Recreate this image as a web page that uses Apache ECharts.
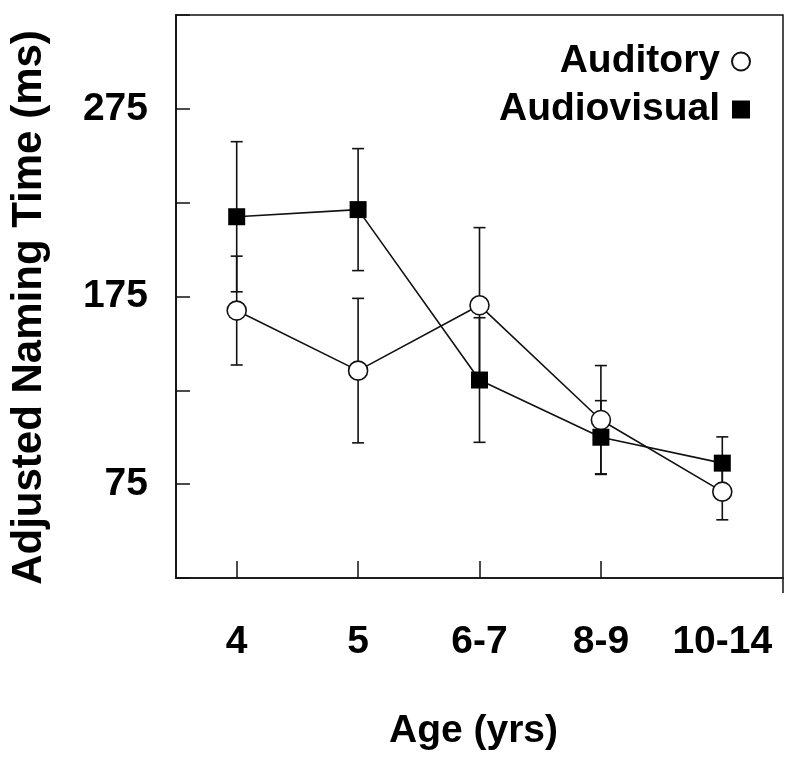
<!DOCTYPE html>
<html>
<head>
<meta charset="utf-8">
<script src="https://cdn.jsdelivr.net/npm/echarts@6/dist/echarts.min.js"></script>
<style>
html,body{margin:0;padding:0;background:#fff;}
#chart{width:800px;height:764px;}
</style>
</head>
<body>
<div id="chart"></div>
<script>
const categories = ['4', '5', '6-7', '8-9', '10-14'];
const auditory = [167.5, 135.5, 170.3, 109.2, 71];
const auditoryErr = [29, 38.5, 41.4, 29, 15];
const audiovisual = [217.5, 221.3, 130.5, 100, 86.2];
const audiovisualErr = [40, 32.5, 33.2, 19.5, 14];
const yTickLabels = [75, 175, 275];

const FONT = '"Liberation Sans", Arial, Helvetica, sans-serif';
const INK = '#111';

function errData(vals, errs) {
  return vals.map((v, i) => [i, v - errs[i], v + errs[i]]);
}

function renderErr(params, api) {
  const x = api.value(0), lo = api.value(1), hi = api.value(2);
  const pHi = api.coord([x, hi]);
  const pLo = api.coord([x, lo]);
  const hw = 6;
  const style = { stroke: INK, lineWidth: 1.6, fill: null };
  return {
    type: 'group',
    children: [
      { type: 'line', shape: { x1: pHi[0], y1: pHi[1], x2: pLo[0], y2: pLo[1] }, style: style },
      { type: 'line', shape: { x1: pHi[0] - hw, y1: pHi[1], x2: pHi[0] + hw, y2: pHi[1] }, style: style },
      { type: 'line', shape: { x1: pLo[0] - hw, y1: pLo[1], x2: pLo[0] + hw, y2: pLo[1] }, style: style }
    ]
  };
}

const chart = echarts.init(document.getElementById('chart'), null, { renderer: 'canvas' });
chart.setOption({
  animation: false,
  backgroundColor: '#fff',
  grid: {
    left: 176, right: 17, top: 15, bottom: 186,
    show: true, borderColor: INK, borderWidth: 1.5, backgroundColor: 'transparent'
  },
  legend: {
    orient: 'vertical',
    right: 44,
    top: 37,
    align: 'right',
    itemWidth: 18,
    itemHeight: 18,
    itemGap: 9,
    textStyle: { fontFamily: FONT, fontWeight: 'bold', fontSize: 39, color: '#000', padding: [0, 7, 0, 0] },
    data: [
      { name: 'Auditory', icon: 'circle' },
      { name: 'Audiovisual', icon: 'rect' }
    ]
  },
  xAxis: [
    {
      type: 'category',
      data: categories,
      boundaryGap: true,
      name: 'Age (yrs)',
      nameLocation: 'middle',
      nameGap: 134,
      nameTextStyle: { fontFamily: FONT, fontWeight: 'bold', fontSize: 39, color: '#000', padding: [0, 12, 0, 0] },
      axisLine: { show: true, lineStyle: { color: INK, width: 1.6 } },
      axisTick: {
        show: true, inside: true, length: 17, alignWithLabel: true,
        interval: function (index) { return index < 4; },
        lineStyle: { color: INK, width: 1.5 }
      },
      axisLabel: {
        margin: 45, fontFamily: FONT, fontWeight: 'bold', fontSize: 39, color: '#000', interval: 0
      },
      splitLine: { show: false }
    },
    {
      type: 'value',
      min: 0, max: 1,
      position: 'bottom',
      axisLine: { show: false },
      axisTick: { show: true, inside: false, length: 15, customValues: [1], lineStyle: { color: INK, width: 1.5 } },
      axisLabel: { show: false },
      splitLine: { show: false }
    }
  ],
  yAxis: {
    type: 'value',
    min: 25, max: 325, interval: 50,
    name: 'Adjusted Naming Time (ms)',
    nameLocation: 'middle',
    nameGap: 126,
    nameRotate: 90,
    nameTextStyle: { fontFamily: FONT, fontWeight: 'bold', fontSize: 42, color: '#000', padding: [0, 22, 0, 0] },
    axisLine: { show: true, lineStyle: { color: INK, width: 1.8 } },
    axisTick: { show: true, inside: true, length: 14, lineStyle: { color: INK, width: 1.5 } },
    axisLabel: {
      margin: 28, fontFamily: FONT, fontWeight: 'bold', fontSize: 39, color: '#000',
      formatter: function (v) { return yTickLabels.indexOf(v) >= 0 ? String(v) : ''; }
    },
    splitLine: { show: false }
  },
  series: [
    {
      name: 'errAuditory', type: 'custom', z: 1,
      xAxisIndex: 0, yAxisIndex: 0,
      encode: { x: 0, y: [1, 2] },
      data: errData(auditory, auditoryErr),
      renderItem: renderErr
    },
    {
      name: 'errAudiovisual', type: 'custom', z: 1,
      xAxisIndex: 0, yAxisIndex: 0,
      encode: { x: 0, y: [1, 2] },
      data: errData(audiovisual, audiovisualErr),
      renderItem: renderErr
    },
    {
      name: 'Auditory', type: 'line', z: 2,
      xAxisIndex: 0, yAxisIndex: 0,
      data: auditory,
      symbol: 'circle', symbolSize: 19,
      lineStyle: { color: INK, width: 1.6 },
      itemStyle: { color: '#fff', borderColor: INK, borderWidth: 1.6 }
    },
    {
      name: 'Audiovisual', type: 'line', z: 3,
      xAxisIndex: 0, yAxisIndex: 0,
      data: audiovisual,
      symbol: 'rect', symbolSize: 17,
      lineStyle: { color: INK, width: 1.6 },
      itemStyle: { color: '#000', borderColor: '#000', borderWidth: 0 }
    }
  ]
});
</script>
</body>
</html>
